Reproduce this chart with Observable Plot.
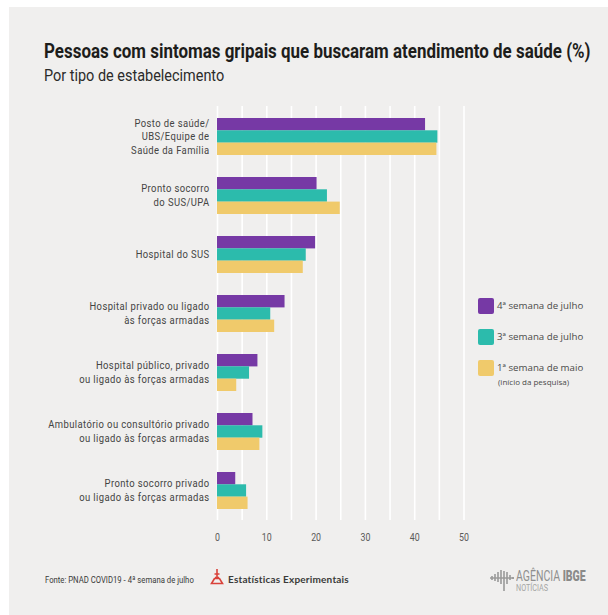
<!DOCTYPE html>
<html lang="pt-BR">
<head>
<meta charset="utf-8">
<script src="https://cdn.jsdelivr.net/npm/d3@7"></script>
<script src="https://cdn.jsdelivr.net/npm/@observablehq/plot@0.6"></script>
<style>
  html, body { margin: 0; padding: 0; background: #fff; }
  #page { position: relative; width: 608px; height: 615px; overflow: hidden; }
  #panel { position: absolute; left: 9px; top: 7px; right: 0; bottom: 0; background: #f0efee; }
  #chart { position: absolute; left: 0; top: 0; }
  .t { position: absolute; white-space: nowrap; line-height: 1; transform-origin: 0 0; }
  #title { left: 44px; top: 39px; font: 700 21px Roboto, sans-serif; color: #1d1d1b; transform: scaleX(.807); }
  #subtitle { left: 44px; top: 65px; font: 400 17px Roboto, sans-serif; color: #2b2b2a; transform: scaleX(.85); }
  .key { position: absolute; left: 478px; width: 16px; height: 16px; border-radius: 2px; }
  .lg { left: 497px; font: 9.7px "Open Sans", sans-serif; color: #4a4a49; }
  #note { left: 498px; top: 376px; font: 8px "Open Sans", sans-serif; color: #4a4a49; }
  #source { left: 45px; top: 574px; font: 9.2px Roboto, sans-serif; color: #3a3a39; transform: scaleX(.84); }
  #exp { left: 228px; top: 573px; font: bold 10px Lato, sans-serif; color: #3a3a39; letter-spacing: .2px; }
  #agencia { left: 516px; top: 568px; font: 14px Roboto, sans-serif; color: #8f8f8e; transform: scaleX(.75); }
  #agencia b { color: #8a8a89; font-weight: 900; }
  #noticias { left: 516px; top: 583px; font: 8.5px Roboto, sans-serif; color: #a5a5a4; transform: scaleX(.85); }
  svg.icon { position: absolute; }
</style>
</head>
<body>
<div id="page">
  <div id="panel"></div>
  <div id="chart"></div>
  <div class="t" id="title">Pessoas com sintomas gripais que buscaram atendimento de saúde (%)</div>
  <div class="t" id="subtitle">Por tipo de estabelecimento</div>
  <div class="key" style="top:298px;background:#7639a5"></div>
  <div class="t lg" style="top:299px">4ª semana de julho</div>
  <div class="key" style="top:329px;background:#2cbbac"></div>
  <div class="t lg" style="top:330px">3ª semana de julho</div>
  <div class="key" style="top:360px;background:#f0ca6b"></div>
  <div class="t lg" style="top:361px">1ª semana de maio</div>
  <div class="t" id="note">(início da pesquisa)</div>
  <div class="t" id="source">Fonte: PNAD COVID19 - 4ª semana de julho</div>
  <svg class="icon" style="left:210px;top:567px" width="14" height="18" viewBox="0 0 14 18">
    <path d="M4.5 7h5M7 2v9M5 10.5h4M4.5 11.5l-3 5h11l-3-5z" fill="none" stroke="#d9423a" stroke-width="1.6"/>
  </svg>
  <div class="t" id="exp">Estatísticas Experimentais</div>
  <svg class="icon" style="left:489px;top:568px" width="26" height="24" viewBox="0 0 26 24">
    <path d="M1 10h24M3 8v4M6 6v7M9 4v10M12 2v14M15 3v20M18 4v12M21 7v5M24 9v2" fill="none" stroke="#9a9a99" stroke-width="1.6"/>
  </svg>
  <div class="t" id="agencia">AGÊNCIA <b>IBGE</b></div>
  <div class="t" id="noticias">NOTÍCIAS</div>
</div>
<script>
// Estabelecimentos, na ordem do gráfico
const categorias = [
  "Posto de saúde/\nUBS/Equipe de\nSaúde da Família",
  "Pronto socorro\ndo SUS/UPA",
  "Hospital do SUS",
  "Hospital privado ou ligado\nàs forças armadas",
  "Hospital público, privado\nou ligado às forças armadas",
  "Ambulatório ou consultório privado\nou ligado às forças armadas",
  "Pronto socorro privado\nou ligado às forças armadas"
];
const cores = ["#7639a5", "#2cbbac", "#f0ca6b"];

// Percentuais por semana, na mesma ordem de categorias
const julho4 = [42.2, 20.2, 19.9, 13.7, 8.2, 7.2, 3.7];
const julho3 = [44.7, 22.3, 18.0, 10.8, 6.5, 9.2, 5.9];
const maio1 = [44.5, 24.9, 17.4, 11.6, 3.9, 8.6, 6.2];
const series = [julho4, julho3, maio1];

// Cada semana ocupa um terço da faixa da categoria
const faixa = 12.3;
const barras = series.map((valores, j) =>
  Plot.barX(valores, {
    x: (d) => d,
    y: (d, i) => categorias[i],
    fill: cores[j],
    insetTop: j * faixa,
    insetBottom: (2 - j) * faixa
  })
);

const plot = Plot.plot({
  width: 608,
  height: 615,
  marginLeft: 217,
  marginRight: 144.5,
  marginTop: 106,
  marginBottom: 95,
  style: {background: "transparent", overflow: "visible"},
  x: {domain: [0, 50], axis: null},
  y: {domain: categorias, paddingInner: 0.375, paddingOuter: 0.19, axis: null},
  marks: [
    Plot.ruleX(d3.range(0, 51, 5), {stroke: "#fff", strokeWidth: 1.6}),
    ...barras,
    Plot.axisY({
      anchor: "left",
      tickSize: 0,
      tickPadding: 8,
      dy: -1,
      label: null,
      lineHeight: 1.33,
      fontSize: 10.5,
      fontFamily: "Roboto, sans-serif",
      fill: "#444443"
    }),
    Plot.axisX({
      ticks: d3.range(0, 51, 10),
      anchor: "bottom",
      tickSize: 0,
      tickPadding: 13,
      label: null,
      fontSize: 10,
      fontFamily: "Roboto, sans-serif",
      fill: "#5a5a59"
    })
  ]
});

// A fonte condensada é obtida comprimindo o texto na horizontal
plot.querySelectorAll("[aria-label='y-axis tick label'] text").forEach((t) => {
  t.setAttribute("transform", `${t.getAttribute("transform") || ""} scale(0.9 1)`);
  t.style.letterSpacing = "0.45px";
});
plot.querySelectorAll("[aria-label='x-axis tick label'] text").forEach((t) => {
  t.setAttribute("transform", `${t.getAttribute("transform") || ""} scale(0.88 1)`);
});
document.getElementById("chart").append(plot);
</script>
</body>
</html>
